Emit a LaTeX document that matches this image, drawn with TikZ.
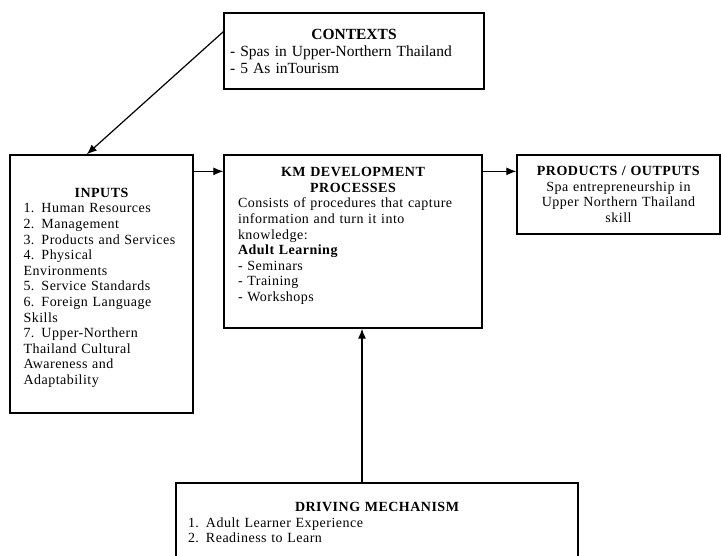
\documentclass[tikz,border=0pt]{standalone}
\usepackage{fontspec}
\setmainfont{Liberation Serif}
\newfontfamily\spacedfont{Liberation Serif}[LetterSpace=3.5]
\usetikzlibrary{arrows.meta,calc}

\begin{document}
\begin{tikzpicture}[x=1pt, y=1pt,
    every node/.style={font=\spacedfont\fontsize{14}{15.6}\selectfont},
    box/.style={draw, line width=1.3pt, rectangle, align=left, inner sep=0pt},
    arr/.style={-{Latex[length=10pt,width=8pt]}, line width=1.2pt}]
        \useasboundingbox (0,0) rectangle (721,-556);

        % Contexts
        \node[box, minimum width=260pt, minimum height=76pt, text width=248pt,
              font=\fontsize{15.5}{17}\selectfont] (contexts) at (354,-51)
            {{\centering\bfseries CONTEXTS\par}
             - Spas in Upper-Northern Thailand\\
             - 5 As inTourism};

        % Inputs
        \node[box, minimum width=183pt, minimum height=258pt, text width=156pt] (inputs) at (101.5,-284)
            {{\centering\bfseries\rule{0pt}{17pt}INPUTS\par}
             1. Human Resources\\ 2. Management\\ 3. Products and Services\\
             4. Physical\\ Environments\\ 5. Service Standards\\
             6. Foreign Language\\ Skills\\ 7. Upper-Northern\\
             Thailand Cultural\\ Awareness and\\ Adaptability};

        % KM development processes
        \node[box, minimum width=258pt, minimum height=173pt, text width=230pt] (km) at (353,-241.5)
            {{\centering\bfseries KM DEVELOPMENT\\ PROCESSES\par}
             Consists of procedures that capture\\ information and turn it into\\
             knowledge:\\ \textbf{Adult Learning}\\ - Seminars\\ - Training\\
             - Workshops\rule[-14pt]{0pt}{1pt}};

        % Products / outputs
        \node[box, minimum width=203pt, minimum height=79pt, text width=190pt,
              align=center] (products) at (618.5,-194.5)
            {\textbf{PRODUCTS / OUTPUTS}\\ Spa entrepreneurship in\\
             Upper Northern Thailand\\ skill};

        % Driving mechanism
        \node[box, minimum width=402pt, minimum height=79pt, text width=378pt] (driving) at (377,-522.5)
            {{\centering\bfseries DRIVING MECHANISM\par}
             1. Adult Learner Experience\\ 2. Readiness to Learn};

        % Arrows
        \draw[arr] ($(contexts.north west)!0.25!(contexts.south west)$)
            -- ($(inputs.north west)!0.42!(inputs.north east)$);
        \draw[arr] ([yshift=-17pt]inputs.north east) -- ([yshift=-17pt]km.north west);
        \draw[arr] ([yshift=-17pt]km.north east) -- ([yshift=-17pt]products.north west);
        \coordinate (up) at ([xshift=9pt]km.south);
        \draw[arr] (driving.north -| up) -- (up);
    \end{tikzpicture}
\end{document}
